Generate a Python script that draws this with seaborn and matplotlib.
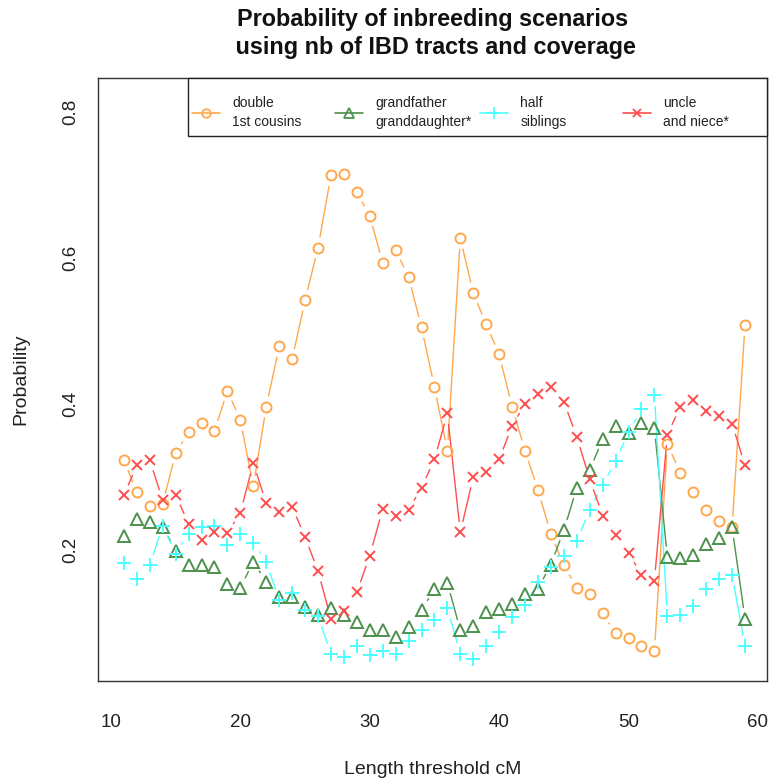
import numpy as np
import pandas as pd
import matplotlib
matplotlib.use("Agg")
import matplotlib.pyplot as plt
from matplotlib.lines import Line2D
from matplotlib.patches import Rectangle
from matplotlib.legend import Legend
import seaborn as sns

# ---------------- data ----------------
length_cM = list(range(11, 60))

double_1st_cousins = [
    0.323, 0.279, 0.260, 0.263, 0.333, 0.361, 0.374, 0.363, 0.418, 0.378,
    0.287, 0.396, 0.479, 0.461, 0.542, 0.614, 0.713, 0.715, 0.690, 0.658,
    0.593, 0.611, 0.574, 0.505, 0.423, 0.336, 0.627, 0.552, 0.509, 0.468,
    0.396, 0.336, 0.282, 0.222, 0.179, 0.148, 0.139, 0.113, 0.086, 0.080,
    0.069, 0.062, 0.345, 0.306, 0.280, 0.255, 0.240, 0.231, 0.508]

grandfather_granddaughter = [
    0.219, 0.243, 0.238, 0.232, 0.199, 0.180, 0.180, 0.176, 0.154, 0.148,
    0.184, 0.156, 0.136, 0.136, 0.122, 0.111, 0.120, 0.111, 0.101, 0.091,
    0.090, 0.081, 0.095, 0.118, 0.146, 0.155, 0.090, 0.096, 0.115, 0.119,
    0.126, 0.140, 0.147, 0.180, 0.227, 0.285, 0.309, 0.352, 0.370, 0.360,
    0.374, 0.367, 0.190, 0.189, 0.193, 0.208, 0.217, 0.231, 0.106]

half_siblings = [
    0.182, 0.160, 0.179, 0.233, 0.195, 0.222, 0.232, 0.233, 0.207, 0.222,
    0.210, 0.183, 0.132, 0.141, 0.118, 0.109, 0.058, 0.054, 0.068, 0.056,
    0.062, 0.058, 0.075, 0.090, 0.104, 0.120, 0.058, 0.050, 0.068, 0.087,
    0.108, 0.124, 0.156, 0.176, 0.192, 0.212, 0.255, 0.289, 0.322, 0.361,
    0.393, 0.412, 0.109, 0.111, 0.123, 0.146, 0.160, 0.166, 0.068]

uncle_and_niece = [
    0.275, 0.316, 0.323, 0.268, 0.275, 0.236, 0.213, 0.224, 0.223, 0.251,
    0.319, 0.264, 0.252, 0.259, 0.218, 0.171, 0.106, 0.117, 0.142, 0.192,
    0.256, 0.246, 0.255, 0.285, 0.324, 0.387, 0.224, 0.300, 0.307, 0.324,
    0.370, 0.400, 0.414, 0.423, 0.403, 0.355, 0.297, 0.247, 0.221, 0.196,
    0.166, 0.158, 0.358, 0.396, 0.405, 0.391, 0.384, 0.373, 0.316]

series_labels = ["double\n1st cousins", "grandfather\ngranddaughter*",
                 "half\nsiblings", "uncle\nand niece*"]
series_values = [double_1st_cousins, grandfather_granddaughter,
                 half_siblings, uncle_and_niece]
x_ticks = [10, 20, 30, 40, 50, 60]
y_ticks = [0.2, 0.4, 0.6, 0.8]

title = "Probability of inbreeding scenarios\n using nb of IBD tracts and coverage"
x_label = "Length threshold cM"
y_label = "Probability"

# ---------------- styles ----------------
colors = [(1.0, 0.66, 0.30), (0.30, 0.57, 0.30), (0.30, 1.0, 1.0), (1.0, 0.30, 0.30)]
markers = ["o", "^", "+", "x"]
msizes = [7.2, 9.0, 10.5, 6.5]

sns.set_theme(style="white")
plt.rcParams["font.family"] = ["Liberation Sans", "DejaVu Sans"]

fig = plt.figure(figsize=(7.7, 7.78), dpi=100)
ax = fig.add_axes([0.1273, 0.1247, 0.8688, 0.7751])
ax.set_xlim(9.0, 60.7)
ax.set_ylim(0.0205, 0.8466)

frames = []
for lab, vals in zip(series_labels, series_values):
    frames.append(pd.DataFrame({"x": length_cM, "y": vals, "series": lab}))
df = pd.concat(frames, ignore_index=True)

gap_pt = 8.0
gap_px = gap_pt * fig.dpi / 72.0
for i, lab in enumerate(series_labels):
    sub = df[df["series"] == lab]
    sns.lineplot(data=sub, x="x", y="y", ax=ax, linestyle="", marker=markers[i],
                 markersize=msizes[i], markerfacecolor="none",
                 markeredgecolor=colors[i], markeredgewidth=1.4,
                 color=colors[i], errorbar=None, legend=False, zorder=3)
    # R type="b": segments between points, leaving a gap around each point
    xs = sub["x"].to_numpy()
    ys = sub["y"].to_numpy()
    for j in range(len(xs) - 1):
        p1 = ax.transData.transform((xs[j], ys[j]))
        p2 = ax.transData.transform((xs[j + 1], ys[j + 1]))
        if np.hypot(*(p2 - p1)) <= 2 * gap_px + 1:
            continue
        ax.annotate("", xy=(xs[j + 1], ys[j + 1]), xytext=(xs[j], ys[j]),
                    xycoords="data", textcoords="data",
                    arrowprops=dict(arrowstyle="-", color=colors[i], lw=1.0,
                                    shrinkA=gap_pt, shrinkB=gap_pt),
                    zorder=2)

ax.set_xticks(x_ticks)
ax.set_yticks(y_ticks)
ax.set_yticklabels([f"{v:.1f}" for v in y_ticks], rotation=90, va="center")
ax.tick_params(axis="both", which="major", direction="out", length=6.5, width=1,
               color="#333333", labelsize=13.5, labelcolor="#222222")
ax.tick_params(axis="x", pad=17)
ax.tick_params(axis="y", pad=7)
for s in ax.spines.values():
    s.set_color("#333333")
    s.set_linewidth(1.0)

ax.set_xlabel(x_label, fontsize=14, labelpad=22, color="#222222")
ax.set_ylabel(y_label, fontsize=14, labelpad=24, color="#222222")
ax.set_title(title, fontsize=16.8, fontweight="bold", pad=17, color="#111111",
             linespacing=1.3)

# legend: framed box with four equally spaced entries (R style)
ax.add_patch(Rectangle((0.1345, 0.904), 0.8655, 0.096, transform=ax.transAxes,
                       fill=True, facecolor="white", edgecolor="#222222",
                       lw=1.0, zorder=5, clip_on=False))
col_x = [0.1405, 0.3543, 0.5710, 0.7848]
for i in range(4):
    h = Line2D([0], [0], color=colors[i], lw=1.2, marker=markers[i],
               markersize=msizes[i] * 0.85, markerfacecolor="none",
               markeredgecolor=colors[i], markeredgewidth=1.3)
    leg = Legend(ax, [h], [series_labels[i]], loc="center left",
                 bbox_to_anchor=(col_x[i], 0.943), frameon=False,
                 fontsize=10, borderpad=0.0, borderaxespad=0.0,
                 handlelength=2.0, handletextpad=0.9)
    for t in leg.get_texts():
        t.set_linespacing(1.5)
        t.set_color("#222222")
    leg.set_zorder(6)
    ax.add_artist(leg)

fig.savefig("out.png", dpi=100)
